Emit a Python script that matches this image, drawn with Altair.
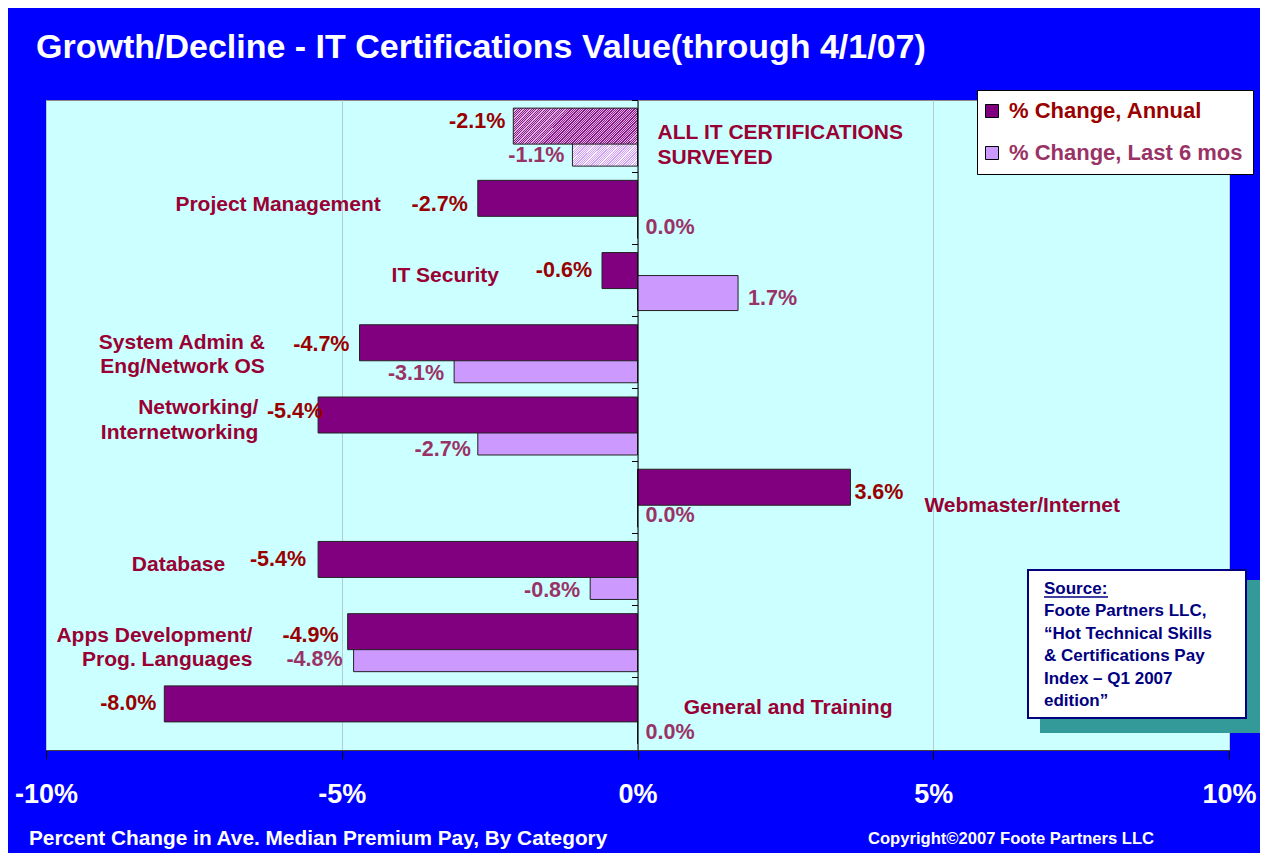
import altair as alt
import pandas as pd

# ---------------- data ----------------
categories = [
    "ALL IT CERTIFICATIONS SURVEYED",
    "Project Management",
    "IT Security",
    "System Admin & Eng/Network OS",
    "Networking/Internetworking",
    "Webmaster/Internet",
    "Database",
    "Apps Development/Prog. Languages",
    "General and Training",
]
category_text = [
    "ALL IT CERTIFICATIONS\nSURVEYED",
    "Project Management",
    "IT Security",
    "System Admin &\nEng/Network OS",
    "Networking/\nInternetworking",
    "Webmaster/Internet",
    "Database",
    "Apps Development/\nProg. Languages",
    "General and Training",
]
annual = [-2.1, -2.7, -0.6, -4.7, -5.4, 3.6, -5.4, -4.9, -8.0]
last6 = [-1.1, 0.0, 1.7, -3.1, -2.7, 0.0, -0.8, -4.8, 0.0]
series_names = ["% Change, Annual", "% Change, Last 6 mos"]
x_ticks = [-10, -5, 0, 5, 10]

title_text = "Growth/Decline - IT Certifications Value(through 4/1/07)"
x_title_text = "Percent Change in Ave. Median Premium Pay, By Category"
copyright_text = "Copyright\u00a92007 Foote Partners LLC"
source_text = ("Source:\nFoote Partners LLC,\n\u201cHot Technical Skills\n"
               "& Certifications Pay\nIndex \u2013 Q1 2007\nedition\u201d")

# label layout (pixels / axis units), kept apart from the data
label_x = [0.34, -4.34, -3.25, -6.30, -6.41, 4.85, -6.97, -6.51, 0.78]
label_align = ["left", "right", "center", "right", "right", "left", "right", "right", "left"]
label_dy = [-3, -3, -5, -10, -17, 9, -4, -6, -6]
ann_dx = [-8, -10, -10, -10, 5, 4, -12, -9, -8]
ann_dy = [-14, -3, -10, -8, -13, -4, -9, -6, -10]
six_dx = [-8, 8, 10, -10, -7, 8, -10, -11, 8]
six_dy = [20, 20, 18, 21, 25, 19, 22, 18, 19]

# ---------------- tables ----------------
rows = []
for i, c in enumerate(categories):
    rows.append({"cat": c, "series": series_names[0], "value": annual[i]})
    rows.append({"cat": c, "series": series_names[1], "value": last6[i]})
df = pd.DataFrame(rows)
lab_df = pd.DataFrame({"cat": categories, "text": category_text, "lx": label_x})

# ---------------- styles ----------------
FONT = "Liberation Sans"
C_ANN = "#800080"
C_6MO = "#CC99FF"
C_ANN_TXT = "#990000"
C_6MO_TXT = "#993366"
C_CAT_TXT = "#990033"
BAR_STROKE = "#222222"


def stripes(c1, c2, n, k, r):
    stops = []
    for i in range(n):
        a, b, c = i / n, (i + 0.5) / n, (i + 1) / n
        stops += [
            {"offset": round(a, 5), "color": c1},
            {"offset": round(b, 5), "color": c1},
            {"offset": round(b, 5), "color": c2},
            {"offset": round(c, 5), "color": c2},
        ]
    return {"gradient": "linear", "x1": 0, "y1": 0, "x2": k, "y2": round(k * r, 4), "stops": stops}


x_scale = alt.Scale(domain=[-10, 10], nice=False)
x_axis = alt.Axis(
    values=x_ticks, labelExpr="datum.value + '%'", title=None,
    grid=True, gridColor="#b4cccc", gridWidth=1,
    tickColor="black", tickSize=9, domainColor="#404040",
    labelColor="white", labelFont=FONT, labelFontSize=27, labelFontWeight="bold",
    labelBaseline="alphabetic", labelPadding=43, labelFlush=False,
)
y_enc = alt.Y(
    "cat:N", sort=categories,
    scale=alt.Scale(domain=categories, paddingInner=0, paddingOuter=0),
    axis=alt.Axis(title=None, labels=False, domainColor="black", tickColor="black",
                  tickSize=6, bandPosition=0, grid=False, offset=-591.5, zindex=1),
)


def x_enc(field="value"):
    return alt.X(f"{field}:Q", scale=x_scale, axis=x_axis)


color_enc = alt.Color(
    "series:N",
    scale=alt.Scale(domain=series_names, range=[C_ANN, C_6MO]),
    legend=alt.Legend(
        title=None, orient="none", legendX=931, legendY=-10, direction="vertical",
        fillColor="white", strokeColor="black", padding=10, symbolOffset=-6,
        symbolType="square", symbolSize=169, symbolStrokeColor="black", symbolStrokeWidth=1,
        labelFont=FONT, labelFontSize=22, labelFontWeight="bold", labelOffset=6,
        labelLimit=400, rowPadding=20,
        labelColor={"expr": f"datum.label == '{series_names[0]}' ? '{C_ANN_TXT}' : '{C_6MO_TXT}'"},
    ),
)

base = alt.Chart(df)
is_first = alt.FieldEqualPredicate(field="cat", equal=categories[0])
not_first = alt.LogicalNotPredicate(**{"not": is_first})
is_ann = alt.FieldEqualPredicate(field="series", equal=series_names[0])
is_6mo = alt.FieldEqualPredicate(field="series", equal=series_names[1])

ANN_OFF, ANN_SIZE = -10, 36
SIX_OFF, SIX_SIZE = 12.5, 35

bar6 = base.transform_filter(is_6mo).transform_filter(not_first).mark_bar(
    size=SIX_SIZE, yOffset=SIX_OFF, stroke=BAR_STROKE, strokeWidth=1
).encode(x=x_enc(), x2=alt.datum(0), y=y_enc, color=color_enc)

hatch6 = base.transform_filter(is_6mo).transform_filter(is_first).mark_bar(
    size=SIX_SIZE, yOffset=SIX_OFF, stroke=BAR_STROKE, strokeWidth=1,
    fill=stripes("#CFA0FA", "#FBF4FF", 46, 1.25, 0.54),
).encode(x=x_enc(), x2=alt.datum(0), y=y_enc)

barA = base.transform_filter(is_ann).transform_filter(not_first).mark_bar(
    size=ANN_SIZE, yOffset=ANN_OFF, stroke=BAR_STROKE, strokeWidth=1
).encode(x=x_enc(), x2=alt.datum(0), y=y_enc, color=color_enc)

hatchA = base.transform_filter(is_ann).transform_filter(is_first).mark_bar(
    size=ANN_SIZE, yOffset=ANN_OFF, stroke=BAR_STROKE, strokeWidth=1,
    fill=stripes("#8C1A8C", "#DDB4DD", 72, 1.25, 0.29),
).encode(x=x_enc(), x2=alt.datum(0), y=y_enc)

LBL = "(datum.value < 0 ? '-' : '') + format(abs(datum.value), '.1f') + '%'"

vlayers = []
for i, c in enumerate(categories):
    for pred, val, dx, dy, col in (
        (is_ann, annual[i], ann_dx[i], ann_dy[i], C_ANN_TXT),
        (is_6mo, last6[i], six_dx[i], six_dy[i], C_6MO_TXT),
    ):
        vlayers.append(
            base.transform_filter(pred).transform_filter(
                alt.FieldEqualPredicate(field="cat", equal=c)
            ).transform_calculate(lbl=LBL).mark_text(
                align="right" if val < 0 else "left", baseline="middle", dx=dx, dy=dy,
                font=FONT, fontSize=21.5, fontWeight="bold", color=col,
            ).encode(x=x_enc(), y=y_enc, text="lbl:N")
        )

cat_layers = []
for i, c in enumerate(categories):
    cat_layers.append(
        alt.Chart(lab_df).transform_filter(alt.FieldEqualPredicate(field="cat", equal=c)).mark_text(
            align=label_align[i], baseline="middle", dy=label_dy[i], lineBreak="\n", lineHeight=24.5,
            font=FONT, fontSize=21, fontWeight="bold", color=C_CAT_TXT,
        ).encode(x=x_enc("lx"), y=y_enc, text="text:N")
    )

# ---------------- annotations ----------------
one = pd.DataFrame({"k": [0]})
title_mark = alt.Chart(pd.DataFrame({"t": [title_text]})).mark_text(
    align="left", baseline="alphabetic", font=FONT, fontSize=34, fontWeight="bold", color="white"
).encode(x=alt.value(-10), y=alt.value(-42), text="t:N")

xtitle_mark = alt.Chart(pd.DataFrame({"t": [x_title_text]})).mark_text(
    align="left", baseline="alphabetic", font=FONT, fontSize=20.8, fontWeight="bold", color="white"
).encode(x=alt.value(-17), y=alt.value(745), text="t:N")

copy_mark = alt.Chart(pd.DataFrame({"t": [copyright_text]})).mark_text(
    align="left", baseline="alphabetic", font=FONT, fontSize=16.6, fontWeight="bold", color="white"
).encode(x=alt.value(822), y=alt.value(744), text="t:N")

shadow = alt.Chart(one).mark_rect(color="#339999").encode(
    x=alt.value(994), x2=alt.value(1214), y=alt.value(480), y2=alt.value(633))
box = alt.Chart(one).mark_rect(fill="white", stroke="#000080", strokeWidth=2).encode(
    x=alt.value(982), x2=alt.value(1200), y=alt.value(470), y2=alt.value(618))
src = alt.Chart(pd.DataFrame({"t": [source_text]})).mark_text(
    align="left", baseline="alphabetic", lineBreak="\n", lineHeight=22.4,
    font=FONT, fontSize=17, fontWeight="bold", color="#000080"
).encode(x=alt.value(998), y=alt.value(494), text="t:N")
underline = alt.Chart(one).mark_rule(color="#000080", strokeWidth=1.5).encode(
    x=alt.value(998), x2=alt.value(1062), y=alt.value(497))

chart = alt.layer(
    hatch6, bar6, hatchA, barA, *vlayers, *cat_layers,
    title_mark, xtitle_mark, copy_mark, shadow, box, src, underline,
).properties(
    width=1183, height=650,
    autosize=alt.AutoSizeParams(type="none"),
    padding={"left": 38, "top": 92, "right": 31, "bottom": 103},
    background="#0000FF",
).configure_view(fill="#CCFFFF", stroke="#8a8a8a", strokeWidth=1)

chart.save("out.html", embed_options={"renderer": "svg", "actions": False})
